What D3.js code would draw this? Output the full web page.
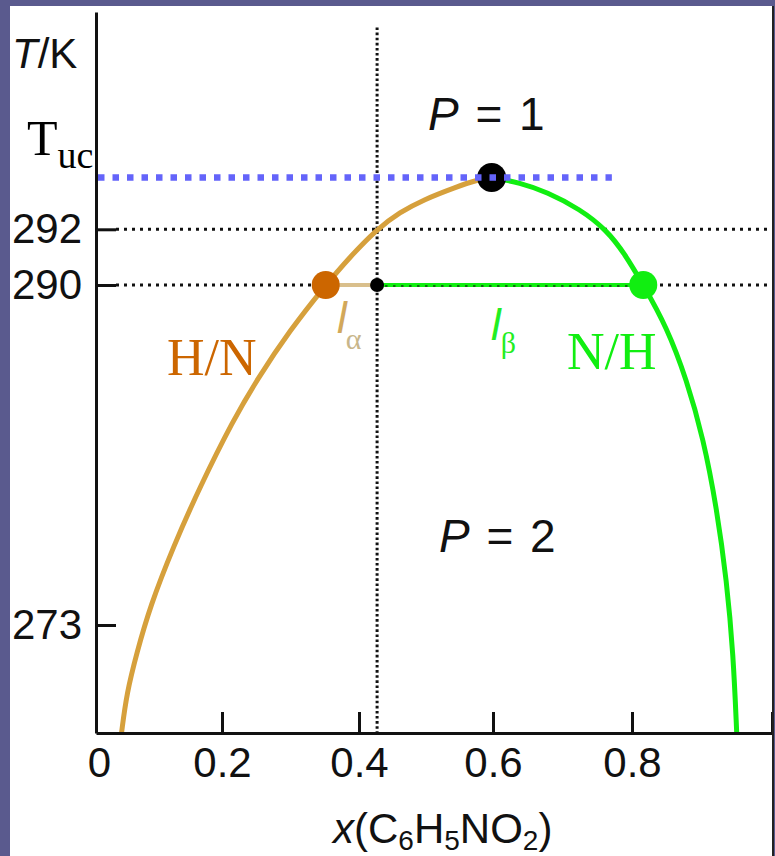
<!DOCTYPE html>
<html>
<head>
<meta charset="utf-8">
<script src="https://cdn.jsdelivr.net/npm/d3@7/dist/d3.min.js"></script>
<style>
  html, body { margin: 0; padding: 0; background: #5a5a8e; }
  svg { display: block; }
  .tick text { font-family: "Liberation Sans", Arial, sans-serif; font-size: 42px; fill: #111; }
</style>
</head>
<body>
<svg id="chart" width="775" height="856"></svg>
<script>
// Hexane / nitrobenzene liquid–liquid phase diagram (upper critical solution temperature)

// axis tick values
const xTickValues = [0, 0.2, 0.4, 0.6, 0.8, 1];
const tTickValues = [273, 290, 292];

// critical point
const xCritical = 0.598;
const Tuc = 293;

// hexane-rich branch (H/N): [x(C6H5NO2), T/K]
const hnBranch = [
  [0.0405, 267.6], [0.0487, 269.59], [0.0646, 271.59], [0.0857, 273.92],
  [0.1227, 276.92], [0.1651, 279.92], [0.2165, 283.25], [0.2507, 285.25],
  [0.2993, 287.75], [0.3514, 290.0], [0.3869, 291.01], [0.4264, 292.0],
  [0.4612, 292.33], [0.4960, 292.57], [0.5458, 292.82], [0.5757, 292.95],
  [0.598, 293.0]
];

// nitrobenzene-rich branch (N/H)
const nhBranch = [
  [0.598, 293.0], [0.6388, 292.90], [0.6773, 292.72], [0.7252, 292.39],
  [0.7636, 291.97], [0.7899, 291.11], [0.8161, 290.0], [0.8496, 287.9],
  [0.8781, 285.26], [0.9019, 282.33], [0.9210, 278.85], [0.9353, 275.2],
  [0.9447, 271.53], [0.9496, 267.6]
];

// tie line at 290 K
const tieT = 290;
const xAlpha = 0.3514;
const xOverall = 0.427;
const xBeta = 0.8161;

// guide lines
const guideTemps = [292, 290];
const tucLineEnd = 0.771;

const svg = d3.select("#chart");

// slide panel
svg.append("rect").attr("x", 0).attr("y", 0).attr("width", 775).attr("height", 856).attr("fill", "#5a5a8e");
svg.append("rect").attr("x", 10).attr("y", 6).attr("width", 763).attr("height", 850).attr("fill", "#ffffff");

// scales (the printed axes are not uniform, so both are piecewise linear)
const x = d3.scaleLinear().domain([0, 0.2, 0.4, 0.6, 0.8, 1]).range([96, 222, 359, 493, 632, 772]);
const y = d3.scaleLinear().domain([267.6, 290, 292, 293, 296.2]).range([733, 285, 229.3, 177.5, 12]);

const g = svg.append("g");

// dotted guides
const dotted = g.append("g").attr("stroke", "#111").attr("fill", "none");
guideTemps.forEach(t => {
  dotted.append("line")
    .attr("x1", x(0) + 20).attr("x2", x(1))
    .attr("y1", y(t)).attr("y2", y(t))
    .attr("stroke-width", 3).attr("stroke-dasharray", "3,5");
});
dotted.append("line")
  .attr("x1", x(xOverall)).attr("x2", x(xOverall))
  .attr("y1", y(295.9)).attr("y2", y(267.6))
  .attr("stroke-width", 3).attr("stroke-dasharray", "2.6,2.5");

// coexistence curve
const line = d3.line().x(d => x(d[0])).y(d => y(d[1])).curve(d3.curveBasis);
g.append("path").datum(hnBranch).attr("d", line)
  .attr("fill", "none").attr("stroke", "#d6a03c").attr("stroke-width", 5);
g.append("path").datum(nhBranch).attr("d", line)
  .attr("fill", "none").attr("stroke", "#11ee11").attr("stroke-width", 5);

// tie line
g.append("line").attr("x1", x(xAlpha)).attr("x2", x(xOverall))
  .attr("y1", y(tieT)).attr("y2", y(tieT))
  .attr("stroke", "#d9bf8c").attr("stroke-width", 4);
g.append("line").attr("x1", x(xOverall)).attr("x2", x(xBeta))
  .attr("y1", y(tieT)).attr("y2", y(tieT))
  .attr("stroke", "#11ee11").attr("stroke-width", 4);
g.append("line").attr("x1", x(xOverall) + 8).attr("x2", x(xBeta))
  .attr("y1", y(tieT) + 1).attr("y2", y(tieT) + 1)
  .attr("stroke", "#111").attr("stroke-width", 2).attr("stroke-dasharray", "2.4,5.6").attr("opacity", 0.6);

// points
g.append("circle").attr("cx", x(xAlpha)).attr("cy", y(tieT)).attr("r", 14).attr("fill", "#cc6600");
g.append("circle").attr("cx", x(xBeta)).attr("cy", y(tieT)).attr("r", 14).attr("fill", "#11ee11");
g.append("circle").attr("cx", x(xOverall)).attr("cy", y(tieT)).attr("r", 7).attr("fill", "#000");
g.append("circle").attr("cx", x(xCritical)).attr("cy", y(Tuc)).attr("r", 14.5).attr("fill", "#000");

// upper critical temperature line
g.append("line").attr("x1", x(0) + 2).attr("x2", x(tucLineEnd))
  .attr("y1", y(Tuc)).attr("y2", y(Tuc))
  .attr("stroke", "#6464fa").attr("stroke-width", 6.5).attr("stroke-dasharray", "6.5,8");

// axes
const yAxis = d3.axisLeft(y).tickValues(tTickValues).tickSize(-20).tickSizeOuter(0)
  .tickPadding(14).tickFormat(d3.format("d"));
const yG = svg.append("g").attr("transform", `translate(${x(0)},0)`).call(yAxis);

const xAxis = d3.axisBottom(x).tickValues(xTickValues).tickSize(-21).tickSizeOuter(0)
  .tickPadding(14).tickFormat(d => String(d));
const xG = svg.append("g").attr("transform", `translate(0,${y(267.6)})`).call(xAxis);

[yG, xG].forEach(a => {
  a.select(".domain").attr("stroke", "#111").attr("stroke-width", 3);
  a.selectAll(".tick line").attr("stroke", "#111").attr("stroke-width", 3);
});
xG.selectAll(".tick text").filter(d => d === 0).attr("dx", 3);
xG.selectAll(".tick text").filter(d => d === 1).attr("dx", 14);

// right frame edge
svg.append("line").attr("x1", 773).attr("x2", 773).attr("y1", 6).attr("y2", 856)
  .attr("stroke", "#222").attr("stroke-width", 2);

// labels
const sans = "'Liberation Sans', Arial, sans-serif";
const serif = "'Liberation Serif', 'Times New Roman', serif";

const tk = svg.append("text").attr("x", 12).attr("y", 68)
  .attr("font-family", sans).attr("font-size", 42).attr("fill", "#111");
tk.append("tspan").attr("font-style", "italic").text("T");
tk.append("tspan").text("/K");

const tuc = svg.append("text").attr("x", 27).attr("y", 155)
  .attr("font-family", serif).attr("font-size", 50).attr("fill", "#000");
tuc.append("tspan").text("T");
tuc.append("tspan").attr("font-size", 38).attr("dy", 13).text("uc");

const xt = svg.append("text").attr("x", 333).attr("y", 843)
  .attr("font-family", sans).attr("font-size", 42).attr("fill", "#111");
xt.append("tspan").attr("font-style", "italic").text("x");
xt.append("tspan").text("(C");
xt.append("tspan").attr("font-size", 28).attr("dy", 7).text("6");
xt.append("tspan").attr("dy", -7).text("H");
xt.append("tspan").attr("font-size", 28).attr("dy", 7).text("5");
xt.append("tspan").attr("dy", -7).text("NO");
xt.append("tspan").attr("font-size", 28).attr("dy", 7).text("2");
xt.append("tspan").attr("dy", -7).text(")");

function phaseLabel(px, py, n) {
  const t = svg.append("text").attr("x", px).attr("y", py)
    .attr("font-family", sans).attr("font-size", 46).attr("fill", "#111")
    .attr("word-spacing", 4);
  t.append("tspan").attr("font-style", "italic").text("P");
  t.append("tspan").text(" = " + n);
}
phaseLabel(428, 130, 1);
phaseLabel(439, 552, 2);

svg.append("text").attr("x", 167).attr("y", 375)
  .attr("font-family", serif).attr("font-size", 52).attr("fill", "#cc6600").text("H/N");
svg.append("text").attr("x", 567).attr("y", 369)
  .attr("font-family", serif).attr("font-size", 52).attr("fill", "#11ee11").text("N/H");

const la = svg.append("text").attr("x", 337).attr("y", 333)
  .attr("font-family", sans).attr("font-size", 44).attr("fill", "#d2a85a");
la.append("tspan").attr("font-style", "italic").text("l");
la.append("tspan").attr("font-family", serif).attr("font-size", 30).attr("dy", 16).attr("dx", -1)
  .attr("fill", "#c8b68a").text("α");

const lb = svg.append("text").attr("x", 491).attr("y", 340)
  .attr("font-family", sans).attr("font-size", 44).attr("fill", "#22ee22");
lb.append("tspan").attr("font-style", "italic").text("l");
lb.append("tspan").attr("font-family", serif).attr("font-size", 30).attr("dy", 13).attr("dx", 0)
  .text("β");
</script>
</body>
</html>
